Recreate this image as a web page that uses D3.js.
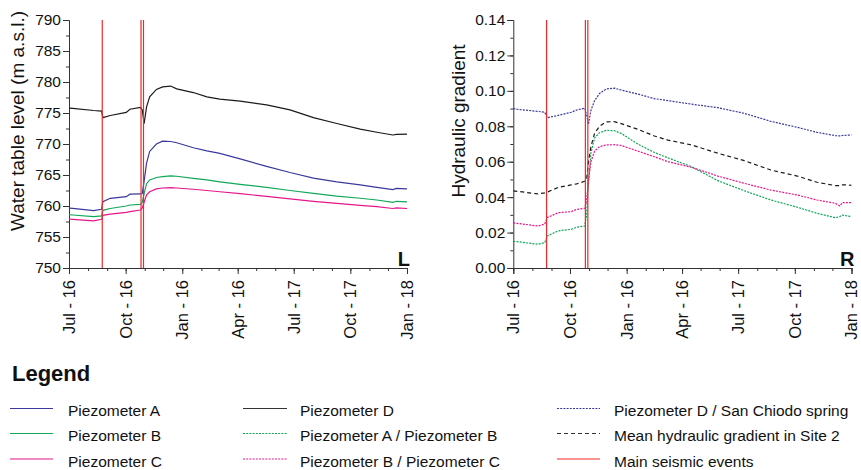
<!DOCTYPE html>
<html><head><meta charset="utf-8">
<script src="https://cdn.jsdelivr.net/npm/d3@7"></script>
<style>body{margin:0;background:#fff} svg{display:block} text{font-family:"Liberation Sans",Arial,Helvetica,sans-serif;fill:#111}</style>
</head><body><svg id="c" width="861" height="470"></svg>
<script>
// ---------- DATA ----------
const xTickDates = ["2016-07-01","2016-10-01","2017-01-01","2017-04-01","2017-07-01","2017-10-01","2018-01-01"];
const xTickLabels = ["Jul - 16","Oct - 16","Jan - 16","Apr - 16","Jul - 17","Oct - 17","Jan - 18"];
const seismicEvents = ["2016-08-24","2016-10-26","2016-10-30"];
const levelTicks = [750,755,760,765,770,775,780,785,790];
const gradTicks = [0,0.02,0.04,0.06,0.08,0.10,0.12,0.14];

const levelDates = ["2016-07-01","2016-07-07","2016-08-10","2016-08-23","2016-08-25","2016-09-06","2016-10-02","2016-10-08","2016-10-25","2016-10-28","2016-10-31","2016-11-04","2016-11-09","2016-11-20","2016-11-30","2016-12-13","2016-12-23","2017-01-19","2017-02-10","2017-03-03","2017-04-05","2017-05-18","2017-06-25","2017-08-02","2017-09-09","2017-10-17","2017-11-13","2017-12-09","2017-12-15","2018-01-01"];
const piezoA = [759.65,759.63,759.25,759.47,760.7,761.24,761.5,761.9,761.94,762.0,764.0,766.9,768.8,770.0,770.45,770.4,770.2,769.4,768.9,768.5,767.6,766.4,765.4,764.5,763.9,763.4,763.0,762.65,762.85,762.75];
const piezoB = [758.6,758.55,758.3,758.4,759.3,759.6,760.0,760.16,760.27,760.6,762.0,763.6,764.2,764.6,764.75,764.85,764.8,764.45,764.2,763.9,763.5,763.0,762.5,762.05,761.6,761.25,760.97,760.6,760.76,760.65];
const piezoC = [757.9,757.85,757.6,757.85,758.5,758.7,758.98,759.1,759.35,759.7,760.6,761.8,762.3,762.75,762.9,762.95,762.9,762.7,762.5,762.3,762.0,761.55,761.15,760.75,760.43,760.1,759.9,759.6,759.7,759.6];
const piezoD = [775.8,775.75,775.4,775.3,774.25,774.6,775.1,775.6,775.9,775.5,773.3,776.0,777.6,778.8,779.2,779.35,778.9,778.3,777.6,777.25,776.9,776.3,775.5,774.25,773.3,772.4,771.9,771.45,771.55,771.6];

const gradDates = ["2016-07-01","2016-07-07","2016-08-10","2016-08-21","2016-08-25","2016-09-12","2016-10-03","2016-10-12","2016-10-25","2016-10-28","2016-10-31","2016-11-04","2016-11-10","2016-11-18","2016-11-29","2016-12-12","2016-12-23","2017-01-19","2017-02-15","2017-03-09","2017-04-16","2017-05-29","2017-07-11","2017-08-23","2017-10-05","2017-11-06","2017-12-06","2017-12-13","2017-12-17","2018-01-01"];
const gradDSpring = [0.0900,0.0896,0.0884,0.0879,0.0848,0.0862,0.0879,0.0892,0.0902,0.0864,0.0813,0.0890,0.0945,0.0985,0.1011,0.1015,0.1005,0.0982,0.0956,0.0945,0.0925,0.0905,0.0873,0.0828,0.0794,0.0766,0.0747,0.0746,0.0748,0.0751];
const gradMean = [0.0435,0.0433,0.0418,0.0424,0.0428,0.0455,0.0469,0.0475,0.0490,0.0500,0.0600,0.0685,0.0761,0.0800,0.0825,0.0826,0.0815,0.0783,0.0745,0.0722,0.0695,0.0648,0.0606,0.0553,0.0519,0.0484,0.0465,0.0465,0.0470,0.0467];
const gradBC = [0.0254,0.0252,0.0237,0.0248,0.0285,0.0312,0.0318,0.0331,0.0337,0.0380,0.0490,0.0600,0.0660,0.0685,0.0695,0.0696,0.0692,0.0660,0.0628,0.0600,0.0569,0.0519,0.0478,0.0440,0.0412,0.0384,0.0365,0.0350,0.0369,0.0369];
const gradAB = [0.0150,0.0149,0.0134,0.0143,0.0180,0.0210,0.0218,0.0230,0.0237,0.0300,0.0480,0.0650,0.0735,0.0764,0.0777,0.0775,0.0760,0.0700,0.0652,0.0622,0.0572,0.0493,0.0436,0.0384,0.0343,0.0309,0.0284,0.0290,0.0299,0.0290];

const legendLabels = ["Piezometer A","Piezometer B","Piezometer C","Piezometer D","Piezometer A / Piezometer B","Piezometer B / Piezometer C","Piezometer D / San Chiodo spring","Mean hydraulic gradient in Site 2","Main seismic events"];

// ---------- STYLES ----------
const C = {A:"#3a3a9c", B:"#10a85a", C:"#e5168c", D:"#1a1a1a", red:"#f02828"};
const DOT = "2,1.2", DASH = "4,3";

const parse = d3.timeParse("%Y-%m-%d");
const svg = d3.select("#c");
const yTop = 20, yBottom = 268;
const domainX = [parse("2016-07-01"), parse("2018-01-01")];

function panel(x0, x1, yDomain, ticks, minorStep, fmt, dates, series, title, titleX, tag) {
  const x = d3.scaleTime().domain(domainX).range([x0, x1]);
  const y = d3.scaleLinear().domain(yDomain).range([yBottom, yTop]);
  const g = svg.append("g");
  const minorY = d3.range(yDomain[0], yDomain[1] + minorStep/2, minorStep);
  g.append("g").attr("transform", `translate(${x0},0)`)
    .call(d3.axisLeft(y).tickValues(minorY).tickSize(3).tickFormat(""))
    .call(s => s.select(".domain").remove());
  g.append("g").attr("transform", `translate(0,${yBottom})`)
    .call(d3.axisBottom(x).tickValues(d3.timeMonth.range(domainX[0], d3.timeDay.offset(domainX[1],1))).tickSize(3).tickFormat(""))
    .call(s => s.select(".domain").remove());
  const ya = g.append("g").attr("transform", `translate(${x0},0)`)
    .call(d3.axisLeft(y).tickValues(ticks).tickSize(6).tickPadding(2).tickFormat(fmt));
  ya.selectAll("text").style("font-size", "15.5px");
  const xa = g.append("g").attr("transform", `translate(0,${yBottom})`)
    .call(d3.axisBottom(x).tickValues(xTickDates.map(parse)).tickSize(6).tickFormat((d,i) => xTickLabels[i]));
  xa.selectAll("text").style("font-size", "16.5px")
    .attr("transform", "rotate(-90)").attr("text-anchor", "end")
    .attr("x", -12).attr("y", 0).attr("dy", "0.33em");
  g.selectAll(".domain, .tick line").attr("stroke", "#333");
  const pd = dates.map(parse);
  series.forEach(s => {
    g.append("path").datum(s.values)
      .attr("fill", "none").attr("stroke", s.color).attr("stroke-width", 1.2)
      .attr("stroke-dasharray", s.dash || null)
      .attr("d", d3.line().x((d,i) => x(pd[i])).y(d => y(d)));
  });
  g.selectAll(".eq").data(seismicEvents.map(parse)).enter().append("line")
    .attr("x1", d => x(d)).attr("x2", d => x(d)).attr("y1", yTop).attr("y2", yBottom)
    .attr("stroke", C.red).attr("stroke-width", 1.2);
  svg.append("text").attr("transform", `translate(${titleX},121) rotate(-90)`)
    .attr("text-anchor", "middle").style("font-size", "19px").text(title);
  svg.append("text").attr("x", x1 + 3).attr("y", 266).attr("text-anchor", "end")
    .style("font-size", "20px").style("font-weight", "bold").text(tag);
}

panel(69, 407, [750, 790], levelTicks, 2.5, d3.format("d"), levelDates, [
  {values: piezoD, color: C.D},
  {values: piezoA, color: C.A},
  {values: piezoB, color: C.B},
  {values: piezoC, color: C.C}
], "Water table level (m a.s.l.)", 24, "L");

panel(513.3, 851.5, [0, 0.14], gradTicks, 0.01, d3.format(".2f"), gradDates, [
  {values: gradDSpring, color: C.A, dash: DOT},
  {values: gradMean, color: C.D, dash: DASH},
  {values: gradAB, color: C.B, dash: DOT},
  {values: gradBC, color: C.C, dash: DOT}
], "Hydraulic gradient", 465, "R");

// ---------- LEGEND ----------
svg.append("text").attr("x", 12).attr("y", 381).style("font-size", "22px").style("font-weight", "bold").text("Legend");
const legendStyle = [
  {c: C.A}, {c: C.B}, {c: C.C}, {c: "#333"}, {c: C.B, d: DOT}, {c: C.C, d: DOT}, {c: C.A, d: DOT}, {c: "#333", d: DASH}, {c: C.red}
];
const colX = [[10, 53, 68], [243, 287, 300], [557, 600, 614]];
const rowY = [416, 441, 466.5];
legendLabels.forEach((lab, i) => {
  const col = Math.floor(i / 3), row = i % 3;
  const [lx0, lx1, tx] = colX[col];
  svg.append("line").attr("x1", lx0).attr("x2", lx1).attr("y1", rowY[row] - 7.5).attr("y2", rowY[row] - 7.5)
    .attr("stroke", legendStyle[i].c).attr("stroke-width", 1.2).attr("stroke-dasharray", legendStyle[i].d || null);
  svg.append("text").attr("x", tx).attr("y", rowY[row]).style("font-size", "15.5px").text(lab);
});
</script></body></html>
